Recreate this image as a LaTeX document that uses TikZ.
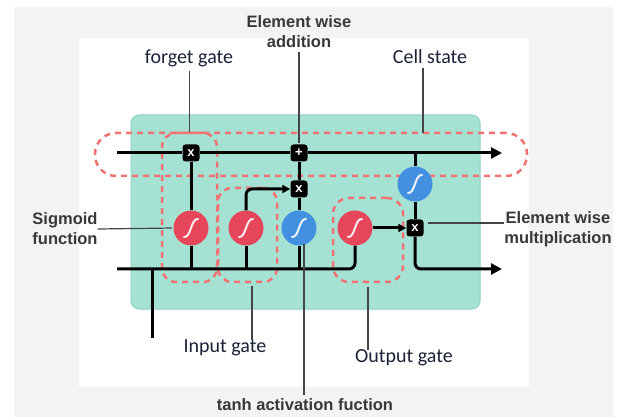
\documentclass[tikz,border=0pt]{standalone}
\usepackage{fontspec}
\setmainfont{Carlito}
\newfontfamily\graylabfont{Liberation Sans}
\usetikzlibrary{arrows.meta}
\definecolor{bggray}{HTML}{F3F3F3}
\definecolor{cellfill}{HTML}{A6E2D4}
\definecolor{cellborder}{HTML}{8FD3C2}
\definecolor{sigred}{HTML}{E6465A}
\definecolor{tanhblue}{HTML}{4390E0}
\definecolor{dashred}{HTML}{F07373}
\definecolor{labnavy}{HTML}{1B2238}
\definecolor{labgray}{HTML}{383838}
\definecolor{leadgray}{HTML}{444444}
\tikzset{
  flow/.style={line width=3pt, draw=black},
  arr/.style={-{Triangle[length=11pt,width=11pt]}},
  sarr/.style={-{Triangle[length=8pt,width=8pt]}},
  lead/.style={line width=1.2pt, draw=leadgray},
  xbox/.style={fill=black, rounded corners=3pt, minimum size=17pt, inner sep=0pt,
    text=white, font=\graylabfont\bfseries\fontsize{13}{13}\selectfont},
  actcircle/.style={circle, minimum size=35pt, inner sep=0pt,
    path picture={\draw[white, opacity=0.9, line width=2pt, line cap=round]
      ([xshift=-7pt,yshift=-9pt]path picture bounding box.center)
      .. controls ([xshift=0pt,yshift=-10pt]path picture bounding box.center)
      and ([xshift=0pt,yshift=10pt]path picture bounding box.center)
      .. ([xshift=7pt,yshift=9pt]path picture bounding box.center);}},
  sigmoid/.style={actcircle, fill=sigred},
  tanhc/.style={actcircle, fill=tanhblue},
  dbox/.style={draw=dashred, line width=2.5pt, dash pattern=on 6pt off 5pt,
    inner sep=0pt, rounded corners=14pt},
  wlab/.style={text=labnavy, font=\fontsize{20}{22}\selectfont, inner sep=0pt},
  glab/.style={text=labgray, font=\graylabfont\bfseries\fontsize{16.5}{20}\selectfont,
    align=center, inner sep=0pt},
}
\begin{document}
\begin{tikzpicture}[x=1pt,y=-1pt]
\useasboundingbox (0,0) rectangle (622,417);
\fill[white] (0,0) rectangle (622,417);
\fill[bggray] (14,7) rectangle (613,417);
\fill[white] (79,38) rectangle (529,387);
\draw[fill=cellfill, draw=cellborder, line width=1pt, rounded corners=8pt] (131,115) rectangle (480,309);

% dashed gate regions
\node[dbox, rounded corners=21pt, minimum width=432pt, minimum height=43pt] (cellgate) at (311,154.5) {};
\node[dbox, minimum width=55pt, minimum height=149pt] (fgate) at (189.5,207.5) {};
\node[dbox, minimum width=59pt, minimum height=94pt] (igate) at (247.5,235) {};
\node[dbox, rounded corners=16pt, minimum width=70pt, minimum height=84pt] (ogate) at (368,240) {};

% operation nodes
\node[xbox] (fx) at (191,153) {x};
\node[xbox] (add) at (299,153) {+};
\node[xbox] (ix) at (299,189) {x};
\node[xbox] (ox) at (415,228) {x};
\node[sigmoid] (fs) at (191,228) {};
\node[sigmoid] (is) at (246,228) {};
\node[tanhc] (it) at (299,228) {};
\node[sigmoid] (os) at (355,228) {};
\node[tanhc] (ot) at (415,184) {};

% free ends
\coordinate (cin) at (117,153);
\coordinate (cout) at (502,153);
\coordinate (hin) at (117,269);
\coordinate (hout) at (502,269);
\coordinate (xj) at (152,269);
\coordinate (xin) at (152,338);

% cell state line
\draw[flow] (cin) -- (fx.west);
\draw[flow] (fx.east) -- (add.west);
\draw[flow, arr] (add.east) -- (cout);
% hidden / input line
\draw[flow, rounded corners=6pt] (hin) -- (os |- hin) -- (os.south);
\draw[flow] (xj) -- (xin);
% forget gate
\draw[flow] (fs.north) -- (fx.south);
\draw[flow] (fs.south) -- (fs |- hin);
% input gate
\draw[flow] (is.south) -- (is |- hin);
\draw[flow, sarr, rounded corners=6pt] (is.north) -- (is |- ix) -- (ix.west);
\draw[flow] (it.south) -- (it |- hin);
\draw[flow] (it.north) -- (ix.south);
\draw[flow] (ix.north) -- (add.south);
% output gate
\draw[flow, sarr] (os.east) -- (ox.west);
\draw[flow] (ot |- cin) -- (ot.north);
\draw[flow] (ot.south) -- (ox.north);
\draw[flow, arr, rounded corners=6pt] (ox.south) -- (ox |- hout) -- (hout);

% labels
\node[wlab] (lforget) at (189,58) {forget gate};
\node[wlab] (lcell) at (430,57) {Cell state};
\node[wlab] (linput) at (225,348) {Input gate};
\node[wlab] (loutput) at (404,358) {Output gate};
\node[glab] (ladd) at (299,32) {Element wise\\addition};
\node[glab] (lsig) at (65,229) {Sigmoid\\function};
\node[glab] (lmul) at (558,229) {Element wise\\multiplication};
\node[glab] (ltanh) at (305,405) {tanh activation fuction};

% leader lines
\coordinate (cellpt) at (423,133);
\coordinate (ipt) at (252,286);
\coordinate (tanhpt) at (304,244);
\coordinate (mulpt) at (428,223);
\draw[lead, shorten <=4pt] (lforget.south -| fgate.north) -- (fgate.north);
\draw[lead, shorten <=4pt] (lcell.south -| cellpt) -- (cellpt);
\draw[lead, shorten <=4pt, shorten >=1pt] (ladd.south) -- (add.north);
\draw[lead, shorten >=1.5pt] (lsig.east) -- (fs.west);
\draw[lead] (mulpt) -- (lmul.west |- mulpt);
\draw[lead] (ipt) -- (ipt |- linput.north);
\draw[lead, shorten <=4pt] (ogate.south) -- (loutput.north -| ogate.south);
\draw[lead, shorten >=4pt] (tanhpt) -- (tanhpt |- ltanh.north);
\end{tikzpicture}
\end{document}
